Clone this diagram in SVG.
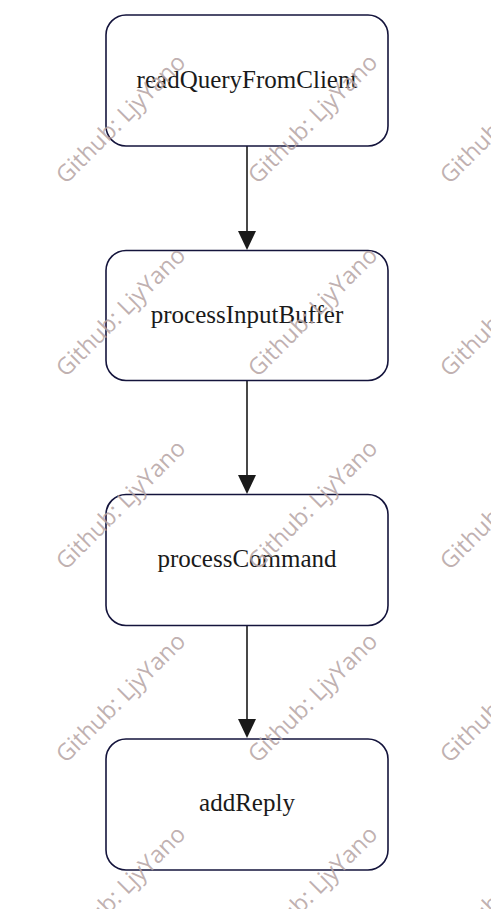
<svg xmlns="http://www.w3.org/2000/svg" width="491" height="909" viewBox="0 0 491 909">
<style>
.node rect{fill:#ffffff;stroke:#14143c;stroke-width:1.6}
.node text{font-family:"Liberation Serif","Times New Roman",serif;font-size:25px;fill:#1a1a1a;text-anchor:middle}
.edge{stroke:#1a1a1a;stroke-width:1.6;fill:none}
.wm{font-family:"Open Sans","Noto Sans",sans-serif;font-size:23.5px;fill:#b5a3a3;fill-opacity:0.85;text-anchor:middle;dominant-baseline:central}
</style>
<rect width="491" height="909" fill="#ffffff"/>
<g id="edges">
<line class="edge" x1="247" y1="146" x2="247" y2="234"/>
<path d="M238,231 L256,231 L247,250 Z" fill="#1a1a1a"/>
<line class="edge" x1="247" y1="381" x2="247" y2="478"/>
<path d="M238,475 L256,475 L247,494 Z" fill="#1a1a1a"/>
<line class="edge" x1="247" y1="625" x2="247" y2="722"/>
<path d="M238,719 L256,719 L247,738 Z" fill="#1a1a1a"/>
</g>
<g id="node-readQueryFromClient" class="node">
<rect x="106" y="15" width="282" height="131" rx="20" ry="20"/>
<text x="247" y="88">readQueryFromClient</text>
</g>
<g id="node-processInputBuffer" class="node">
<rect x="106" y="250.5" width="282" height="130" rx="20" ry="20"/>
<text x="247" y="323">processInputBuffer</text>
</g>
<g id="node-processCommand" class="node">
<rect x="106" y="494.5" width="282" height="131" rx="20" ry="20"/>
<text x="247" y="567">processCommand</text>
</g>
<g id="node-addReply" class="node">
<rect x="106" y="739" width="282" height="131" rx="20" ry="20"/>
<text x="247" y="811">addReply</text>
</g>
<g id="watermarks">
<text class="wm" transform="translate(120 118) rotate(-45)">Github: LjyYano</text>
<text class="wm" transform="translate(312 118) rotate(-45)">Github: LjyYano</text>
<text class="wm" transform="translate(504 118) rotate(-45)">Github: LjyYano</text>
<text class="wm" transform="translate(120 311) rotate(-45)">Github: LjyYano</text>
<text class="wm" transform="translate(312 311) rotate(-45)">Github: LjyYano</text>
<text class="wm" transform="translate(504 311) rotate(-45)">Github: LjyYano</text>
<text class="wm" transform="translate(120 504) rotate(-45)">Github: LjyYano</text>
<text class="wm" transform="translate(312 504) rotate(-45)">Github: LjyYano</text>
<text class="wm" transform="translate(504 504) rotate(-45)">Github: LjyYano</text>
<text class="wm" transform="translate(120 697) rotate(-45)">Github: LjyYano</text>
<text class="wm" transform="translate(312 697) rotate(-45)">Github: LjyYano</text>
<text class="wm" transform="translate(504 697) rotate(-45)">Github: LjyYano</text>
<text class="wm" transform="translate(120 890) rotate(-45)">Github: LjyYano</text>
<text class="wm" transform="translate(312 890) rotate(-45)">Github: LjyYano</text>
<text class="wm" transform="translate(504 890) rotate(-45)">Github: LjyYano</text>
</g>
</svg>
